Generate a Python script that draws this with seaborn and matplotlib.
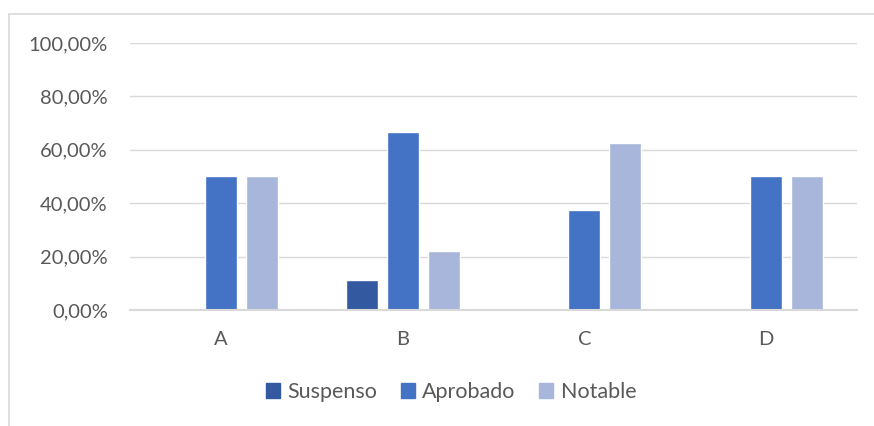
import matplotlib
matplotlib.use("Agg")
import matplotlib.pyplot as plt
import seaborn as sns
import pandas as pd
from matplotlib.lines import Line2D
from matplotlib.ticker import FuncFormatter

categories = ["A", "B", "C", "D"]
series = ["Suspenso", "Aprobado", "Notable"]
suspenso = [0.0, 11.11, 0.0, 0.0]
aprobado = [50.0, 66.67, 37.5, 50.0]
notable = [50.0, 22.22, 62.5, 50.0]
yticks = [0, 20, 40, 60, 80, 100]

colors = ["#335AA1", "#4472C4", "#A7B6DA"]

rows = []
for name, vals in zip(series, [suspenso, aprobado, notable]):
    for c, v in zip(categories, vals):
        rows.append({"cat": c, "serie": name, "val": v})
df = pd.DataFrame(rows)

sns.set_theme(style="white")
plt.rcParams["font.family"] = ["Lato", "DejaVu Sans"]

fig = plt.figure(figsize=(8.74, 4.26), dpi=100)
ax = fig.add_axes([130/874, 1-310/426, (857-130)/874, (310-43)/426])

sns.barplot(data=df, x="cat", y="val", hue="serie", hue_order=series,
            order=categories, palette=colors, width=0.677, gap=0.22,
            ax=ax, errorbar=None, saturation=1, zorder=3)

ax.set_xlim(-0.5, 3.5)
ax.set_ylim(0, 100)
ax.set_yticks(yticks)
ax.yaxis.set_major_formatter(FuncFormatter(lambda v, p: f"{v:.2f}%".replace(".", ",")))
ax.grid(axis="y", color="#D9D9D9", linewidth=1, zorder=0)
ax.set_axisbelow(True)
for s in ["left", "right", "top"]:
    ax.spines[s].set_visible(False)
ax.spines["bottom"].set_color("#D9D9D9")
ax.spines["bottom"].set_linewidth(1.5)
ax.spines["bottom"].set_zorder(4)
ax.tick_params(axis="both", length=0, labelsize=14.5, colors="#595959")
ax.tick_params(axis="y", pad=16)
ax.tick_params(axis="x", pad=15)
ax.set_xlabel("")
ax.set_ylabel("")

leg = ax.get_legend()
if leg is not None:
    leg.remove()
handles = [plt.Rectangle((0, 0), 1, 1, color=c) for c in colors]
fig.legend(handles, series, loc="center", bbox_to_anchor=(451/874, 1-392/426),
           ncol=3, frameon=False, fontsize=15.5, handlelength=0.65, handleheight=0.65,
           handletextpad=0.35, columnspacing=1.1, labelcolor="#595959")

fig.add_artist(Line2D([8.5/874, 1.0], [1-13.5/426, 1-13.5/426], color="#D9D9D9", linewidth=1.2))
fig.add_artist(Line2D([8.5/874, 8.5/874], [0, 1-13.5/426], color="#D9D9D9", linewidth=1.2))

fig.savefig("out.png", dpi=100)
